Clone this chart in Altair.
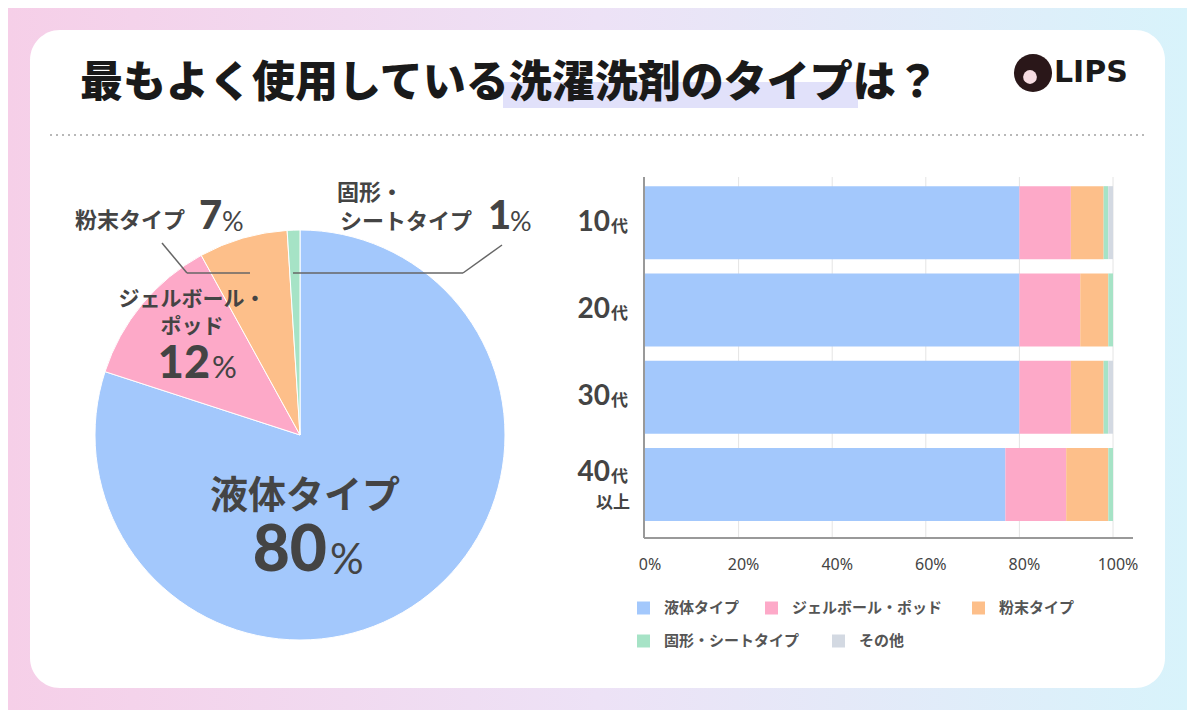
import altair as alt
import pandas as pd

# ---------------- data ----------------
types = ["液体タイプ", "ジェルボール・ポッド", "粉末タイプ", "固形・シートタイプ", "その他"]
type_colors = ["#a3c8fc", "#fda9c8", "#fdbf8a", "#a6e3c6", "#d3d9e2"]

pie_types = ["液体タイプ", "ジェルボール・ポッド", "粉末タイプ", "固形・シートタイプ"]
pie_share = [80, 12, 7, 1]

ages = ["10代", "20代", "30代", "40代以上"]
age_nums = ["10", "20", "30", "40"]
liquid = [80, 80, 80, 77]
gel = [11, 13, 11, 13]
powder = [7, 6, 7, 9]
solid = [1, 1, 1, 1]
other = [1, 0, 1, 0]

tick_values = [0, 20, 40, 60, 80, 100]
tick_labels = ["0%", "20%", "40%", "60%", "80%", "100%"]

# ---------------- tables ----------------
series = [liquid, gel, powder, solid, other]
rows = []
for ai, age in enumerate(ages):
    for ti, t in enumerate(types):
        rows.append({"age": age, "type": t, "value": series[ti][ai], "idx": ti})
bar_df = pd.DataFrame(rows)
pie_df = pd.DataFrame({"type": pie_types, "share": pie_share, "idx": list(range(len(pie_types)))})
tick_df = pd.DataFrame({"t": tick_values, "label": tick_labels})
grid_df = tick_df[tick_df["t"] > 0]
age_df = pd.DataFrame({"age": ages, "num": age_nums})
type_df = pd.DataFrame({"type": types})
one = pd.DataFrame({"k": [0]})

JP = "Noto Sans CJK JP"
NUM = "Lato"
W, H = 1179, 702
O = 8  # page margin offset

color_scale = alt.Scale(domain=types, range=type_colors)
xscale = alt.Scale(domain=[0, 100], range=[645 - O, 1113 - O], nice=False, zero=False)
yscale = alt.Scale(domain=ages, range=[177 - O, 538 - O], paddingInner=0.164,
                   paddingOuter=0.15, align=0.35)


def txt(s, x, y, size, weight="bold", align="left", font=JP, color="#444444"):
    return alt.Chart(one).mark_text(text=s, align=align, baseline="middle", fontSize=size,
                                    fontWeight=weight, font=font, color=color).encode(
        x=alt.value(x - O), y=alt.value(y - O))


def seg(x1, y1, x2, y2, color="#666666", width=1.5):
    return alt.Chart(one).mark_rule(color=color, strokeWidth=width).encode(
        x=alt.value(x1 - O), y=alt.value(y1 - O), x2=alt.value(x2 - O), y2=alt.value(y2 - O))


# ---------------- decoration ----------------
bg = alt.Chart(one).mark_rect(color=alt.LinearGradient(
    gradient="linear", x1=0, x2=1, y1=0, y2=0,
    stops=[alt.GradientStop(color="#f6cfe8", offset=0),
           alt.GradientStop(color="#ede2f6", offset=0.5),
           alt.GradientStop(color="#d8f3fb", offset=1)])).encode(
    x=alt.value(0), x2=alt.value(W), y=alt.value(0), y2=alt.value(H))

card = alt.Chart(one).mark_rect(color="#ffffff", cornerRadius=30).encode(
    x=alt.value(30 - O), x2=alt.value(1165 - O), y=alt.value(30 - O), y2=alt.value(688 - O))

highlight = alt.Chart(one).mark_rect(color="#e1e1fa").encode(
    x=alt.value(503 - O), x2=alt.value(858 - O), y=alt.value(82 - O), y2=alt.value(108 - O))

title = txt("最もよく使用している洗濯洗剤のタイプは？", 80, 84, 43, weight=900, color="#1a1a1a")

dotted = alt.Chart(one).mark_rule(color="#b8b8b8", strokeWidth=2, strokeDash=[2, 4]).encode(
    x=alt.value(50 - O), x2=alt.value(1145 - O), y=alt.value(135 - O))

logo_circle = alt.Chart(one).mark_circle(size=1450, color="#2a1719", opacity=1).encode(
    x=alt.value(1033 - O), y=alt.value(73 - O))
logo_inner = alt.Chart(one).mark_circle(size=190, color="#f7dde2", opacity=1).encode(
    x=alt.value(1030 - O), y=alt.value(77 - O))
logo_text = txt("LIPS", 1054, 73, 30, weight="bold", font="DejaVu Sans", color="#1a1a1a")

# ---------------- bar chart ----------------
grid = alt.Chart(grid_df).mark_rule(color="#e4e4e4", strokeWidth=1).encode(
    x=alt.X("t:Q", scale=xscale, axis=None), y=alt.value(177 - O), y2=alt.value(538 - O))

bars = alt.Chart(bar_df).mark_bar().encode(
    x=alt.X("value:Q", stack="zero", scale=xscale, axis=None),
    y=alt.Y("age:N", scale=yscale, axis=None),
    color=alt.Color("type:N", scale=color_scale, legend=None),
    order=alt.Order("idx:Q", sort="ascending"),
)

axis_y = seg(644, 177, 644, 538, color="#999999", width=2)
axis_x = seg(644, 538, 1133, 538, color="#999999", width=2)

tick_text = alt.Chart(tick_df).mark_text(font="Noto Sans", fontSize=16, color="#444444",
                                         align="center", baseline="middle", dx=5).encode(
    x=alt.X("t:Q", scale=xscale, axis=None), y=alt.value(565 - O), text="label:N")

age_main = age_df[age_df["num"] != "40"]
age_last = age_df[age_df["num"] == "40"]
ylab_num = alt.Chart(age_main).mark_text(font=NUM, fontWeight="bold", fontSize=28, color="#444444",
                                         align="right", baseline="middle").encode(
    x=alt.value(610 - O), y=alt.Y("age:N", scale=yscale, axis=None), text="num:N")
ylab_dai = alt.Chart(age_main).mark_text(text="代", font=JP, fontWeight="bold", fontSize=17,
                                         color="#444444", align="left", baseline="middle", dy=4).encode(
    x=alt.value(611 - O), y=alt.Y("age:N", scale=yscale, axis=None))
ylab_num40 = alt.Chart(age_last).mark_text(font=NUM, fontWeight="bold", fontSize=28, color="#444444",
                                           align="right", baseline="middle", dy=-11).encode(
    x=alt.value(610 - O), y=alt.Y("age:N", scale=yscale, axis=None), text="num:N")
ylab_dai40 = alt.Chart(age_last).mark_text(text="代", font=JP, fontWeight="bold", fontSize=17,
                                           color="#444444", align="left", baseline="middle", dy=-7).encode(
    x=alt.value(611 - O), y=alt.Y("age:N", scale=yscale, axis=None))
ylab_ijo = alt.Chart(age_last).mark_text(text="以上", font=JP, fontWeight="bold", fontSize=17,
                                         color="#444444", align="right", baseline="middle", dy=19).encode(
    x=alt.value(630 - O), y=alt.Y("age:N", scale=yscale, axis=None))

# ---------------- legend (flowing rows, as in the reference) ----------------
legend_slots = [(637, 608), (765, 608), (972, 608), (637, 641), (832, 641)]
legend_layers = []
for t, (lx, ly) in zip(types, legend_slots):
    d = type_df[type_df["type"] == t]
    legend_layers.append(
        alt.Chart(d).mark_square(size=169, opacity=1).encode(
            x=alt.value(lx + 6.5 - O), y=alt.value(ly - O),
            color=alt.Color("type:N", scale=color_scale, legend=None)))
    legend_layers.append(
        alt.Chart(d).mark_text(font=JP, fontSize=15, fontWeight=600, color="#555555",
                               align="left", baseline="middle").encode(
            x=alt.value(lx + 27 - O), y=alt.value(ly - O), text="type:N"))

# ---------------- pie ----------------
pie = alt.Chart(pie_df).mark_arc(outerRadius=205, stroke="#ffffff", strokeWidth=1).encode(
    theta=alt.Theta("share:Q", stack=True),
    color=alt.Color("type:N", scale=color_scale, legend=None),
    order=alt.Order("idx:Q", sort="ascending"),
    x=alt.value(300 - O), y=alt.value(435 - O),
)

pie_labels = [
    txt("粉末タイプ", 75, 221, 22),
    txt("7", 199, 217, 40, weight=900, font=NUM),
    txt("%", 222, 223, 27, weight="normal", font=NUM),
    txt("固形・", 337, 193, 22),
    txt("シートタイプ", 340, 222, 22),
    txt("1", 488, 217, 40, weight=900, font=NUM),
    txt("%", 510, 223, 27, weight="normal", font=NUM),
    txt("ジェルボール・", 192, 300, 21, align="center"),
    txt("ポッド", 192, 327, 21, align="center"),
    txt("12", 210, 364, 45, weight=900, font=NUM, align="right"),
    txt("%", 212, 369, 31, weight="normal", font=NUM),
    txt("液体タイプ", 305, 497, 38, align="center"),
    txt("80", 327, 552, 64, weight=900, font=NUM, align="right"),
    txt("%", 330, 561, 42, weight="normal", font=NUM),
]

leaders = [
    seg(162, 243, 187, 273),
    seg(187, 273, 250, 273),
    seg(293, 273, 463, 273),
    seg(463, 273, 502, 245),
]

layers = [bg, card, highlight, title, dotted, logo_circle, logo_inner, logo_text,
          grid, bars, axis_y, axis_x, tick_text,
          ylab_num, ylab_dai, ylab_num40, ylab_dai40, ylab_ijo,
          pie] + legend_layers + pie_labels + leaders

chart = alt.layer(*layers).properties(
    width=W, height=H, padding=0,
    autosize=alt.AutoSizeParams(type="none"),
).configure_view(stroke=None).configure(background="#ffffff")

chart.save("out.html", embed_options={"renderer": "svg", "actions": False})
